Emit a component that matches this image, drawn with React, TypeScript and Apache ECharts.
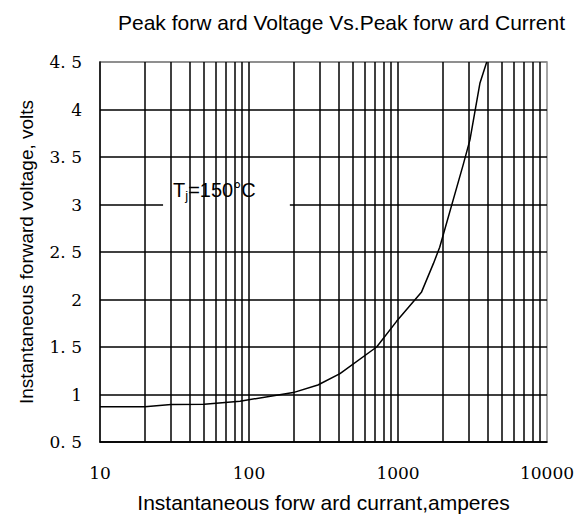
import React, { useEffect, useRef } from "react";
import * as echarts from "echarts";

const titleText = "Peak forw ard Voltage Vs.Peak forw ard Current";
const xAxisName = "Instantaneous forw ard currant,amperes";
const yAxisName = "Instantaneous forward voltage, volts";

const currents = [10, 20, 30, 50, 87, 198, 290, 408, 719, 978, 1440, 1730, 1905, 2740, 3040, 3550, 3940];
const voltages = [0.872, 0.872, 0.895, 0.897, 0.93, 1.02, 1.1, 1.22, 1.5, 1.77, 2.08, 2.38, 2.55, 3.42, 3.68, 4.28, 4.5];

const yTickLabels = ["0. 5", "1", "1. 5", "2", "2. 5", "3", "3. 5", "4", "4. 5"];
const xTickLabels = ["10", "100", "1000", "10000"];
const gridCurrents = [
  20, 30, 40, 50, 60, 70, 80, 90, 100,
  200, 300, 400, 500, 600, 700, 800, 900, 1000,
  2000, 3000, 4000, 5000, 6000, 7000, 8000, 9000,
];

// label box corners in data units
const labelBoxStart = [26.5, 3.42];
const labelBoxEnd = [188, 2.89];

export default function App() {
  const ref = useRef<HTMLDivElement>(null);
  useEffect(() => {
    document.body.style.margin = "0";
    const chart = echarts.init(ref.current!, null, { renderer: "svg" });
    const black = "#000";
    const gray = "#888";
    chart.setOption({
      animation: false,
      backgroundColor: "#fff",
      title: {
        text: titleText,
        left: 113,
        top: 7,
        textStyle: { fontFamily: "Liberation Sans", fontSize: 21, fontWeight: "normal", color: "#000" },
      },
      grid: { left: 100, top: 62, right: 32, bottom: 77, show: true, borderColor: gray, borderWidth: 1.5 },
      xAxis: {
        type: "log",
        logBase: 10,
        min: 10,
        max: 10000,
        name: xAxisName,
        nameLocation: "middle",
        nameGap: 50,
        nameTextStyle: { fontFamily: "Liberation Sans", fontSize: 21, color: "#000" },
        axisLine: { lineStyle: { color: black, width: 1.5 } },
        axisTick: { show: false },
        axisLabel: {
          fontFamily: "DejaVu Serif",
          fontSize: 17,
          color: "#000",
          margin: 22,
          formatter: (v: number, i: number) => xTickLabels[i] ?? String(v),
        },
        splitLine: { show: false },
      },
      yAxis: {
        type: "value",
        min: 0.5,
        max: 4.5,
        interval: 0.5,
        name: yAxisName,
        nameLocation: "middle",
        nameGap: 64,
        nameTextStyle: { fontFamily: "Liberation Sans", fontSize: 19, color: "#000" },
        axisLine: { show: true, lineStyle: { color: black, width: 1.5 } },
        axisTick: { show: false },
        axisLabel: {
          fontFamily: "DejaVu Serif",
          fontSize: 17,
          color: "#000",
          margin: 18,
          formatter: (v: number, i: number) => yTickLabels[i] ?? String(v),
        },
        splitLine: {
          show: true,
          lineStyle: { color: [black, black, black, black, black, black, black, black, gray], width: 1.5 },
        },
      },
      series: [
        {
          type: "line",
          data: [],
          z: 3,
          silent: true,
          markLine: {
            silent: true,
            symbol: "none",
            label: { show: false },
            lineStyle: { color: black, width: 1.5, type: "solid" },
            emphasis: { disabled: true },
            data: gridCurrents.map((c) => ({ xAxis: c })),
          },
        },
        {
          type: "line",
          data: [],
          z: 4,
          silent: true,
          markArea: {
            silent: true,
            itemStyle: { color: "#fff", opacity: 1 },
            emphasis: { disabled: true },
            label: {
              show: true,
              position: "insideLeft",
              distance: 10,
              formatter: "{t|T}{s|j}{t|=150°C}",
              rich: {
                t: { fontFamily: "Liberation Sans", fontSize: 20, color: "#000" },
                s: { fontFamily: "Liberation Sans", fontSize: 13, color: "#000", padding: [12, 0, 0, 0] },
              },
            },
            data: [[
              { xAxis: labelBoxStart[0], yAxis: labelBoxStart[1] },
              { xAxis: labelBoxEnd[0], yAxis: labelBoxEnd[1] },
            ]],
          },
        },
        {
          type: "line",
          z: 5,
          silent: true,
          showSymbol: false,
          smooth: false,
          lineStyle: { color: black, width: 1.5 },
          data: currents.map((c, i) => [c, voltages[i]]),
        },
      ],
    });
    return () => chart.dispose();
  }, []);
  return <div ref={ref} style={{ width: 579, height: 519 }} />;
}
